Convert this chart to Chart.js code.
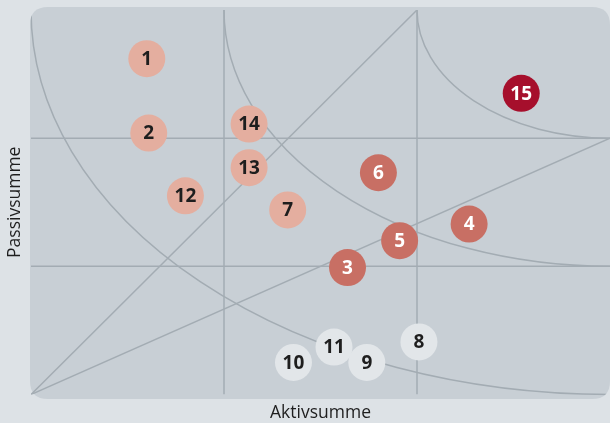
<!DOCTYPE html>
<html><head><meta charset="utf-8">
<script src="https://cdn.jsdelivr.net/npm/chart.js@4"></script>
<style>html,body{margin:0;padding:0;background:#dde2e6;overflow:hidden;}canvas{display:block;}</style>
</head><body>
<canvas id="c" width="610" height="423"></canvas>
<script>
// Bubble labels, in drawing order (later ones on top)
const labels = ['1','2','12','14','13','7','6','15','4','5','3','8','10','11','9'];
// Aktivsumme (x) and Passivsumme (y) in grid units (0..3)
const aktiv  = [0.60,0.61,0.80,1.13,1.13,1.33,1.80,2.54,2.27,1.91,1.64,2.01,1.36,1.57,1.74];
const passiv = [2.62,2.04,1.55,2.11,1.77,1.44,1.73,2.35,1.33,1.20,0.99,0.41,0.25,0.37,0.25];
// Colour group of each bubble
const groups = ['a','a','a','a','a','a','b','c','b','b','b','d','d','d','d'];
const groupFill = {a:'#e4ae9f', b:'#c86f64', c:'#a60f2c', d:'#e2e6e9'};
const groupText = {a:'#1e1e1e', b:'#ffffff', c:'#ffffff', d:'#1e1e1e'};

// Guide geometry (grid units)
const gridX = [1, 2];
const gridY = [1, 2];
const diagonalEnds = [[2, 3], [3, 2]];
const arcCenter = [3, 3];
const arcRadii = [1, 2, 3];
const axisMax = 3;

const lineColor = '#a3acb3';

const guideSets = [];
gridX.forEach(v => guideSets.push([{x:v,y:0},{x:v,y:axisMax}]));
gridY.forEach(v => guideSets.push([{x:0,y:v},{x:axisMax,y:v}]));
diagonalEnds.forEach(e => guideSets.push([{x:0,y:0},{x:e[0],y:e[1]}]));

const bubbleData = labels.map((l,i) => ({x:aktiv[i], y:passiv[i], r:18.5}));

function roundRect(ctx, x, y, w, h, r){
  ctx.beginPath();
  ctx.moveTo(x+r,y);
  ctx.lineTo(x+w-r,y); ctx.quadraticCurveTo(x+w,y,x+w,y+r);
  ctx.lineTo(x+w,y+h-r); ctx.quadraticCurveTo(x+w,y+h,x+w-r,y+h);
  ctx.lineTo(x+r,y+h); ctx.quadraticCurveTo(x,y+h,x,y+h-r);
  ctx.lineTo(x,y+r); ctx.quadraticCurveTo(x,y,x+r,y);
  ctx.closePath();
}

const bgPlugin = {
  id:'bgPlugin',
  beforeDraw(chart){
    const ctx = chart.ctx;
    ctx.save();
    ctx.fillStyle = '#dde2e6';
    ctx.fillRect(0,0,chart.width,chart.height);
    roundRect(ctx, 30, 7, 580, 392, 18);
    ctx.fillStyle = '#c8cfd5';
    ctx.fill();
    ctx.restore();
  },
  beforeDatasetsDraw(chart){
    const ctx = chart.ctx, xs = chart.scales.x, ys = chart.scales.y;
    ctx.save();
    roundRect(ctx, 30, 7, 580, 392, 18);
    ctx.clip();
    const cx = xs.getPixelForValue(arcCenter[0]);
    const cy = ys.getPixelForValue(arcCenter[1]);
    ctx.strokeStyle = lineColor;
    ctx.lineWidth = 1.5;
    arcRadii.forEach(r => {
      const rx = cx - xs.getPixelForValue(arcCenter[0]-r);
      const ry = ys.getPixelForValue(arcCenter[1]-r) - cy;
      ctx.beginPath();
      ctx.ellipse(cx, cy, rx, ry, 0, Math.PI/2, Math.PI);
      ctx.stroke();
    });
    ctx.restore();
  },
  afterDatasetsDraw(chart){
    const ctx = chart.ctx;
    const meta = chart.getDatasetMeta(0);
    ctx.save();
    ctx.font = 'bold 19px "Open Sans"';
    ctx.textAlign = 'center';
    ctx.textBaseline = 'middle';
    meta.data.forEach((el,i) => {
      ctx.fillStyle = groupText[groups[i]];
      ctx.fillText(labels[i], el.x, el.y+1);
    });
    ctx.restore();
  }
};

const datasets = [{
  type:'bubble',
  data: bubbleData,
  backgroundColor: groups.map(g => groupFill[g]),
  borderWidth: 0,
  hoverBorderWidth: 0
}];
guideSets.forEach(d => datasets.push({
  type:'line', data:d, borderColor:lineColor, borderWidth:1.5,
  pointRadius:0, fill:false, tension:0
}));

new Chart(document.getElementById('c'), {
  type:'bubble',
  data:{datasets},
  options:{
    responsive:false, animation:false, devicePixelRatio:1,
    layout:{autoPadding:false, padding:{top:10,right:0,left:0,bottom:0}},
    plugins:{legend:{display:false}, tooltip:{enabled:false}},
    scales:{
      x:{type:'linear', min:0, max:axisMax,
        grid:{display:false}, border:{display:false}, ticks:{display:false},
        title:{display:true, text:'Aktivsumme', color:'#1e1e1e',
          font:{family:'"Open Sans"', size:17.5, lineHeight:1.1}, padding:{top:0,bottom:0}},
        afterFit(s){ s.height = 28.5; }
      },
      y:{type:'linear', min:0, max:axisMax,
        grid:{display:false}, border:{display:false}, ticks:{display:false},
        title:{display:true, text:'Passivsumme', color:'#1e1e1e',
          font:{family:'"Open Sans"', size:17.5}, padding:{top:5,bottom:0}},
        afterFit(s){ s.width = 31; }
      }
    }
  },
  plugins:[bgPlugin]
});
</script>
</body></html>
